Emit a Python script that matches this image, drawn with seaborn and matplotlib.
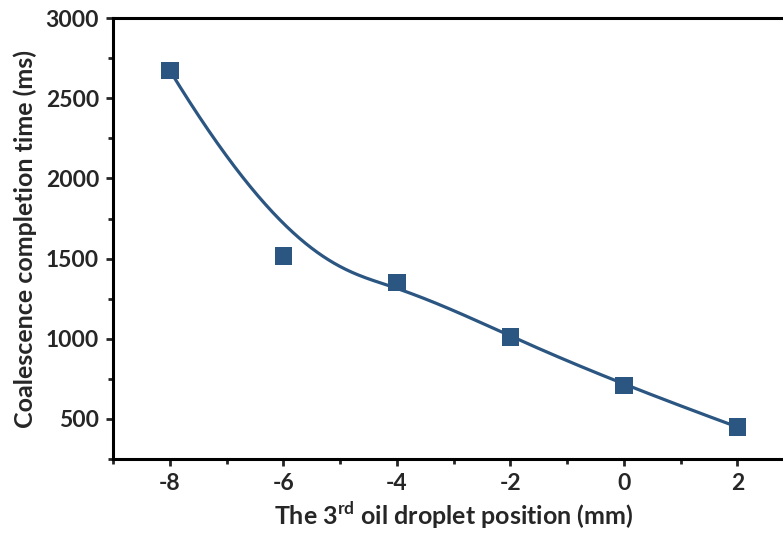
import matplotlib
matplotlib.use("Agg")
import matplotlib.pyplot as plt
import numpy as np
import pandas as pd
import seaborn as sns
from matplotlib.ticker import MultipleLocator

# Measured points
position_mm = [-8, -6, -4, -2, 0, 2]
completion_ms = [2675, 1515, 1350, 1010, 710, 450]

sns.set_style("ticks")
plt.rcParams['font.family'] = ['Lato', 'DejaVu Sans']
plt.rcParams['font.weight'] = 'bold'
plt.rcParams['axes.unicode_minus'] = False
plt.rcParams['mathtext.fontset'] = 'custom'
plt.rcParams['mathtext.rm'] = 'Lato:bold'
plt.rcParams['mathtext.bf'] = 'Lato:bold'

color = '#2b5681'

df = pd.DataFrame({'x': position_mm, 'y': completion_ms})


# clamped cubic B-spline using the data points as control points
def bspline(ctrl, n_out=400, k=3):
    ctrl = np.asarray(ctrl, dtype=float)
    n = len(ctrl)
    inner = np.arange(1, n - k)
    knots = np.concatenate([np.zeros(k + 1), inner, np.full(k + 1, n - k)])
    t = np.linspace(0, n - k, n_out)
    t[-1] -= 1e-9
    # Cox-de Boor recursion
    B = np.array([((knots[i] <= t) & (t < knots[i + 1])).astype(float)
                  for i in range(len(knots) - 1)])
    for d in range(1, k + 1):
        newB = np.zeros((len(knots) - 1 - d, len(t)))
        for i in range(len(knots) - 1 - d):
            a = knots[i + d] - knots[i]
            b = knots[i + d + 1] - knots[i + 1]
            left = (t - knots[i]) / a * B[i] if a > 0 else 0
            right = (knots[i + d + 1] - t) / b * B[i + 1] if b > 0 else 0
            newB[i] = left + right
        B = newB
    return B.T @ ctrl


fit = pd.DataFrame({'x': bspline(df['x']), 'y': bspline(df['y'])})

fig = plt.figure(figsize=(7.83, 5.35), dpi=100)
ax = fig.add_axes([0.1443, 0.142, 0.87, 0.824])

sns.lineplot(data=fit, x='x', y='y', color=color, lw=2.3, sort=False, ax=ax)
sns.scatterplot(data=df, x='x', y='y', marker='s', s=160, color=color,
                edgecolor='none', zorder=3, ax=ax)

ax.set_xlim(-9, 3)
ax.set_ylim(250, 3000)
ax.set_xticks(position_mm)
ax.set_yticks([500, 1000, 1500, 2000, 2500, 3000])
ax.xaxis.set_minor_locator(MultipleLocator(1))
ax.yaxis.set_minor_locator(MultipleLocator(250))

for side in ['left', 'bottom', 'top']:
    ax.spines[side].set_linewidth(2.2)
    ax.spines[side].set_color('black')
ax.spines['right'].set_visible(False)

ax.tick_params(which='major', direction='out', length=5, width=2, labelsize=16.5, pad=5)
ax.tick_params(which='minor', direction='out', length=3.5, width=2)
for lab in ax.get_xticklabels() + ax.get_yticklabels():
    lab.set_fontweight('bold')

ax.set_xlabel('The 3$^{\\mathregular{rd}}$ oil droplet position (mm)', fontsize=18, fontweight='bold', labelpad=4)
ax.set_ylabel('Coalescence completion time (ms)', fontsize=18, fontweight='bold', labelpad=6)

fig.savefig('out.png', dpi=100)
